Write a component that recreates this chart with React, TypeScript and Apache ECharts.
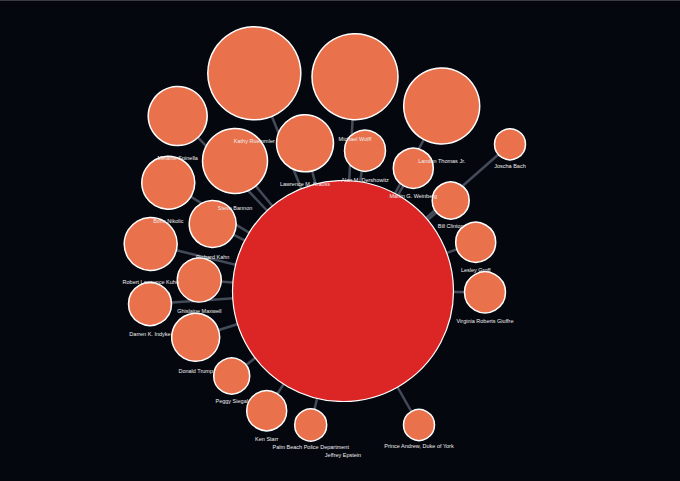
import React, { useEffect, useRef } from "react";
import * as echarts from "echarts";

const centerName = "Jeffrey Epstein";

const names = [
  "Jeffrey Epstein",
  "Kathy Ruemmler",
  "Michael Wolff",
  "Landon Thomas Jr.",
  "Melanie Spinella",
  "Joscha Bach",
  "Steve Bannon",
  "Lawrence M. Krauss",
  "Alan M. Dershowitz",
  "Martin G. Weinberg",
  "Bill Clinton",
  "Boris Nikolic",
  "Richard Kahn",
  "Robert Lawrence Kuhn",
  "Ghislaine Maxwell",
  "Darren K. Indyke",
  "Donald Trump",
  "Peggy Siegal",
  "Ken Starr",
  "Palm Beach Police Department",
  "Prince Andrew, Duke of York",
  "Lesley Groff",
  "Virginia Roberts Giuffre",
];

const nodeX = [
  343, 254.3, 355, 441.7, 177.7, 510, 235, 305, 365, 413.3, 450.7, 168.3, 212.7,
  150.7, 199.3, 150, 195.7, 231.7, 266.7, 310.7, 419, 475.7, 485,
];

const nodeY = [
  291, 73.3, 76.7, 106, 116, 144.3, 161, 143.3, 150.7, 168.3, 200.5, 182.7, 224,
  244, 280, 304, 337.3, 376, 410.7, 425, 425, 242.3, 292.3,
];

const nodeSizes = [
  221, 93, 86, 76, 59, 31, 65, 57, 41, 40, 37, 53, 47, 53, 44, 43, 48, 36, 40,
  32, 31, 40, 41,
];

const CENTER_COLOR = "#dc2626";
const NODE_COLOR = "#e9714b";

export default function App() {
  const ref = useRef<HTMLDivElement>(null);

  useEffect(() => {
    document.body.style.margin = "0";
    document.body.style.background = "#05070f";
    const chart = echarts.init(ref.current!, undefined, { renderer: "svg" });

    const nodes = names.map((n, i) => ({
      name: n,
      value: [nodeX[i], nodeY[i]],
      symbolSize: nodeSizes[i],
      itemStyle: {
        color: n === centerName ? CENTER_COLOR : NODE_COLOR,
        borderColor: "#ffffff",
        borderWidth: n === centerName ? 1.2 : 1.5,
      },
    }));

    const links = names
      .filter((n) => n !== centerName)
      .map((n) => ({ source: n, target: centerName }));

    chart.setOption({
      animation: false,
      backgroundColor: "#05070f",
      grid: { left: 0, right: 0, top: 0, bottom: 0 },
      xAxis: { type: "value", min: 0, max: 680, show: false },
      yAxis: { type: "value", min: 0, max: 481, inverse: true, show: false },
      series: [
        {
          type: "graph",
          coordinateSystem: "cartesian2d",
          data: nodes,
          links,
          symbol: "circle",
          lineStyle: { color: "#4b5361", width: 2.5, opacity: 0.9, curveness: 0 },
          label: {
            show: true,
            position: ["50%", "125%"],
            offset: [0, -3],
            align: "center",
            verticalAlign: "middle",
            color: "#eeeeee",
            fontSize: 5.5,
            fontFamily: "Liberation Sans, Arial, sans-serif",
          },
          emphasis: { disabled: true },
        },
      ],
    });

    return () => chart.dispose();
  }, []);

  return (
    <div
      style={{
        position: "fixed",
        left: 0,
        top: 0,
        width: 680,
        height: 481,
        background: "#05070f",
      }}
    >
      <div
        style={{
          position: "absolute",
          left: 0,
          top: 0,
          width: 680,
          height: 1,
          background: "#3c3c40",
          zIndex: 2,
        }}
      />
      <div ref={ref} style={{ width: 680, height: 481 }} />
    </div>
  );
}
